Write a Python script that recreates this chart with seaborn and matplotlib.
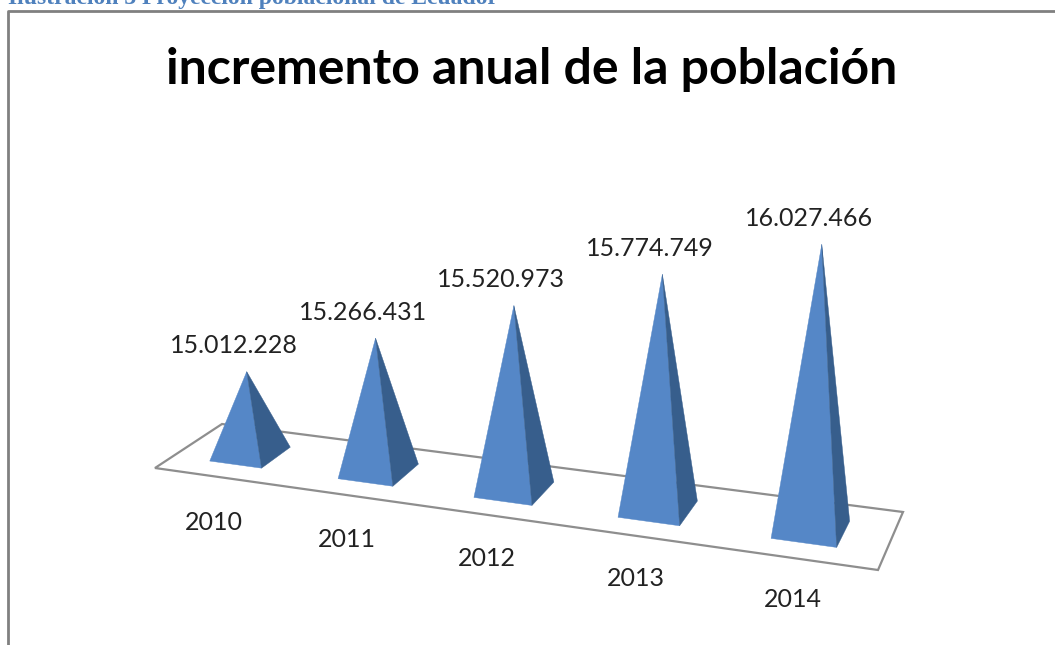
import numpy as np
import pandas as pd
import seaborn as sns
import matplotlib.pyplot as plt

sns.set_theme(style="white")
plt.rcParams['font.family'] = ['Lato', 'DejaVu Sans']

caption = "Ilustración 3 Proyección poblacional de Ecuador"
title = "incremento anual de la población"
years = ["2010", "2011", "2012", "2013", "2014"]
poblacion = [15012228, 15266431, 15520973, 15774749, 16027466]

W, H = 1055, 645
front_col = "#5587C7"
side_col = "#375E8C"
line_col = "#8E8E8E"

df = pd.DataFrame({"anio": years, "poblacion": poblacion})
fig = plt.figure(figsize=(W/100, H/100), dpi=100)

# the bars only give category position and value, then get redrawn as pyramids
bar_ax = fig.add_axes([0, 0, 1, 1])
sns.barplot(data=df, x="anio", y="poblacion", ax=bar_ax)
cats = [(p.get_x() + p.get_width()/2, p.get_height()) for p in bar_ax.patches]
bar_ax.remove()

ax = fig.add_axes([0, 0, 1, 1])
ax.set_xlim(0, W)
ax.set_ylim(H, 0)
ax.axis("off")

# floor plane -> picture, u along the categories, d going back
corners_px = np.array([[155, 468], [878, 570], [903, 512], [222, 424]], float)
corners_uv = np.array([[-0.5, 0], [4.5, 0], [4.5, 1], [-0.5, 1]], float)
A, b = [], []
for (u, d), (x, y) in zip(corners_uv, corners_px):
    A.append([u, d, 1, 0, 0, 0, -u*x, -d*x])
    A.append([0, 0, 0, u, d, 1, -u*y, -d*y])
    b += [x, y]
hom = np.append(np.linalg.solve(np.array(A), np.array(b)), 1).reshape(3, 3)


def floor(u, d):
    x, y, w = hom @ np.array([u, d, 1.0])
    return np.array([x/w, y/w])


half = 0.205
d0, d1 = 0.26, 0.72
base_val = 14.60e6
px_per_val = 200/1e6

floor_xy = [floor(*c) for c in corners_uv]
ax.fill(*zip(*floor_xy), fc="white", ec=line_col, lw=1.6, zorder=1)

for u, v in cats:
    fl = floor(u - half, d0)
    fr = floor(u + half, d0)
    rb = floor(u + half, d1)
    lb = floor(u - half, d1)
    centre = (fl + rb)/2
    h = (v - base_val)*px_per_val
    apex = centre + np.array([0.02*(u - 2)*h, -h])
    ax.fill(*zip(fl, fr, apex), color=front_col, lw=0.3, zorder=3)
    ax.fill(*zip(fr, rb, apex), color=side_col, lw=0.3, zorder=3)
    ax.text(apex[0] - 13, apex[1] - 26, f"{int(v):,}".replace(",", "."),
            ha="center", va="center", fontsize=18, color="#222222", zorder=4)
    ax.text(fl[0] + 4 + 4.5*u, fl[1] + 61, years[int(round(u))],
            ha="center", va="center", fontsize=18, color="#222222", zorder=4)

ax.text(532, 70, title, ha="center", va="center", fontsize=36,
        fontweight="bold", color="black")

# frame of the pasted picture and the caption cut off by the page edge
ax.plot([8, 8, W], [H, 11, 11], color="#808080", lw=2, zorder=5)
ax.text(8, 4, caption, ha="left", va="baseline", fontsize=17,
        fontweight="bold", color="#4F81BD", family="Liberation Serif")

fig.savefig("out.png", dpi=100)
